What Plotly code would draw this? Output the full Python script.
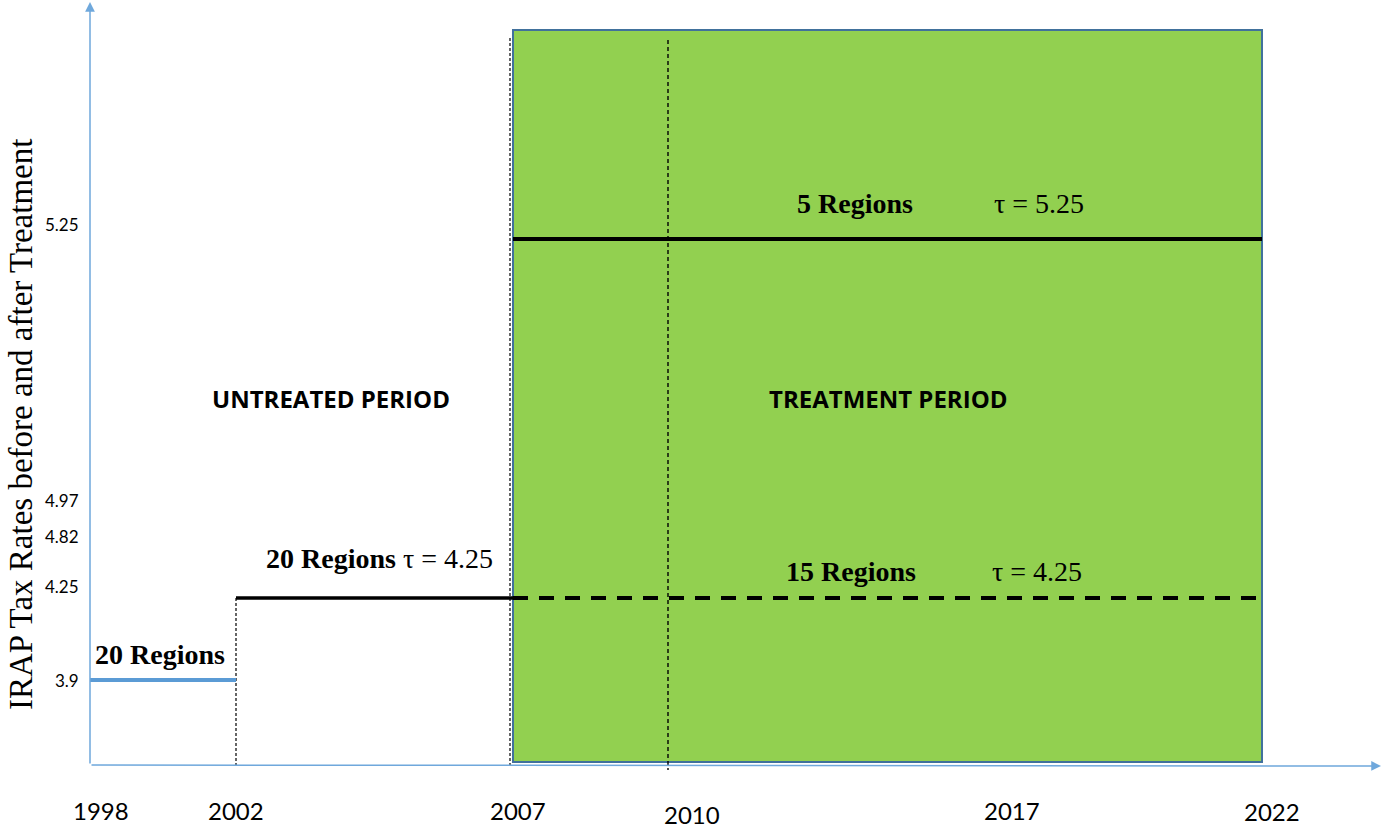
import plotly.graph_objects as go

# ---------------- data ----------------
years = [1998, 2002, 2007, 2010, 2017, 2022]
rate_ticks = [5.25, 4.97, 4.82, 4.25, 3.9]

seg_start = [1998, 2002, 2007, 2007]
seg_end = [2002, 2007, 2022, 2022]
seg_rate = [3.9, 4.25, 4.25, 5.25]
seg_regions = [20, 20, 15, 5]

period_labels = ["UNTREATED PERIOD", "TREATMENT PERIOD"]
y_title = "IRAP Tax Rates before and after Treatment"

treatment_start, treatment_end = 2007, 2022

# ---------------- schematic scale (layout) ----------------
# the diagram uses a hand-drawn, non-linear scale on both axes
year_pos = {1998: 90, 2002: 236, 2007: 513, 2010: 668, 2017: 1012, 2022: 1262}
rate_pos = {3.9: 680, 4.25: 598, 4.82: 536, 4.97: 500, 5.25: 239}
AX_X0, AX_Y0 = 90, 765

fig = go.Figure()

# treatment period box
fig.add_shape(type="rect", x0=year_pos[treatment_start], x1=year_pos[treatment_end],
              y0=30, y1=762, fillcolor="#92D050",
              line=dict(color="#41719C", width=2), layer="below")

# reference vertical lines
fig.add_shape(type="line", x0=year_pos[2002], x1=year_pos[2002], y0=rate_pos[4.25], y1=AX_Y0,
              line=dict(color="black", width=1.2, dash="3px,2px"), layer="below")
fig.add_shape(type="line", x0=year_pos[2007] - 3, x1=year_pos[2007] - 3, y0=38, y1=AX_Y0,
              line=dict(color="black", width=1.2, dash="3px,2px"), layer="below")
fig.add_shape(type="line", x0=year_pos[2010], x1=year_pos[2010], y0=40, y1=770,
              line=dict(color="black", width=1.4, dash="4px,3px"), layer="below")

# rate segments
styles = [
    dict(color="#5B9BD5", width=4),
    dict(color="black", width=3.5),
    dict(color="black", width=4, dash="15px,11px"),
    dict(color="black", width=4),
]
for s, e, r, st in zip(seg_start, seg_end, seg_rate, styles):
    fig.add_trace(go.Scatter(x=[year_pos[s], year_pos[e]], y=[rate_pos[r], rate_pos[r]],
                             mode="lines", line=st, hoverinfo="skip", showlegend=False))

serif = "Liberation Serif"
sans = "Lato"

def txt(x, y, text, size=28, family=serif, **kw):
    fig.add_annotation(x=x, y=y, text=text, showarrow=False,
                       font=dict(family=family, size=size, color="black"),
                       xanchor=kw.pop("xanchor", "center"), yanchor="middle", **kw)

# segment labels
txt(160, 654, f"<b>{seg_regions[0]} Regions</b>")
txt(379, 558, f"<b>{seg_regions[1]} Regions</b> τ = {seg_rate[1]}")
txt(851, 571, f"<b>{seg_regions[2]} Regions</b>")
txt(1037, 571, f"τ = {seg_rate[2]}")
txt(855, 203, f"<b>{seg_regions[3]} Regions</b>")
txt(1039, 203, f"τ = {seg_rate[3]}")

# period labels
txt(331, 398, f"<b>{period_labels[0]}</b>", size=24, family="Open Sans")
txt(888, 398, f"<b>{period_labels[1]}</b>", size=24, family="Open Sans")

# y title
txt(21, 425, y_title, size=33, textangle=-90, borderpad=0)

# y tick labels
tick_row = {5.25: 224, 4.97: 500, 4.82: 536, 4.25: 586, 3.9: 680}
for v in rate_ticks:
    txt(81, tick_row[v], f"{v}", size=17, family=sans, xanchor="right")

# x tick labels
label_shift = {1998: 11, 2002: 0, 2007: 5, 2010: 24, 2017: 0, 2022: 10}
label_row = {1998: 810, 2002: 810, 2007: 810, 2010: 814, 2017: 810, 2022: 811}
for yv in years:
    txt(year_pos[yv] + label_shift[yv], label_row[yv], str(yv), size=24, family=sans)

# axes with arrows
axis_col = "#6FA8DC"
fig.add_annotation(x=AX_X0, y=2, ax=AX_X0, ay=AX_Y0, axref="x", ayref="y", xref="x", yref="y",
                   text="", showarrow=True, arrowhead=2, arrowsize=1.3, arrowwidth=1.5,
                   arrowcolor=axis_col)
fig.add_annotation(x=1381, y=AX_Y0 + 1, ax=AX_X0, ay=AX_Y0, axref="x", ayref="y", xref="x", yref="y",
                   text="", showarrow=True, arrowhead=2, arrowsize=1.3, arrowwidth=1.5,
                   arrowcolor=axis_col)

fig.update_layout(
    width=1382, height=829,
    margin=dict(l=0, r=0, t=0, b=0),
    paper_bgcolor="white", plot_bgcolor="white",
    xaxis=dict(range=[0, 1382], visible=False, fixedrange=True),
    yaxis=dict(range=[829, 0], visible=False, fixedrange=True),
)

fig.write_html("out.html", config={"displayModeBar": False},
               post_script="document.body.style.margin='0';document.body.style.overflow='hidden';")
